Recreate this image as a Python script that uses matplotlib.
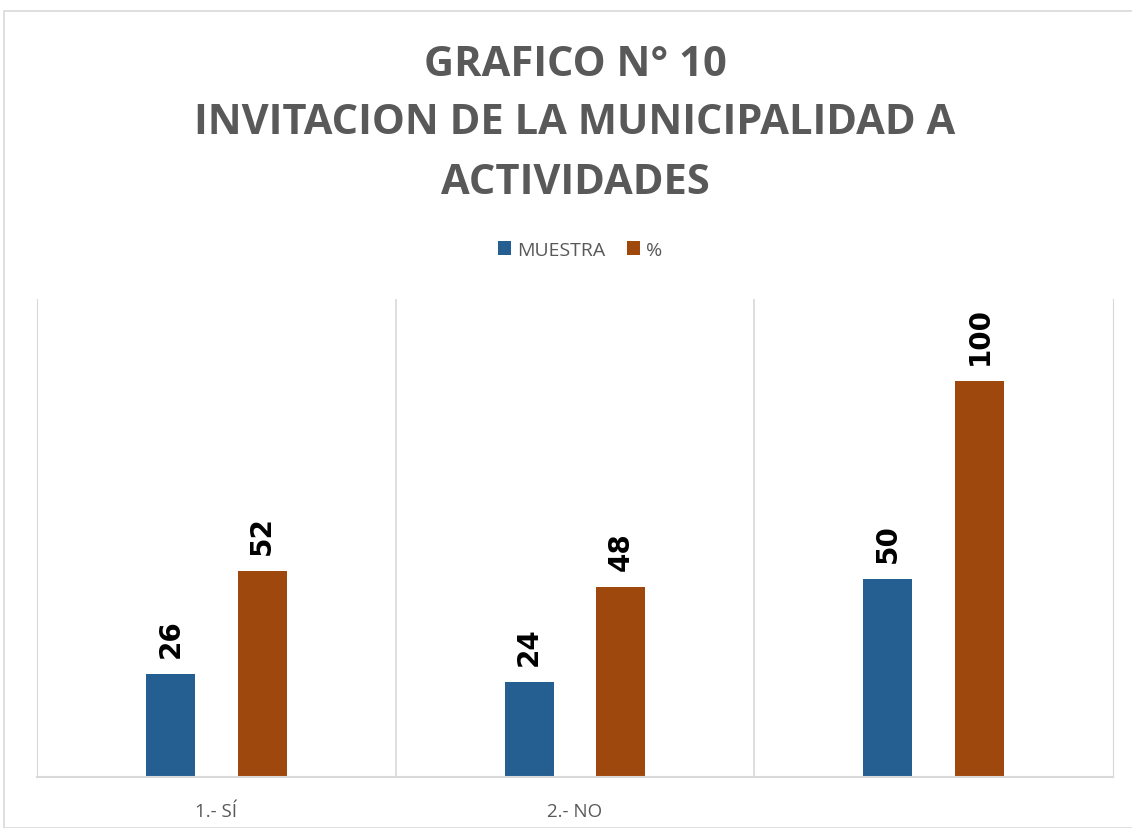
import matplotlib.pyplot as plt
import numpy as np

categories = ["1.- SÍ", "2.- NO", ""]
muestra = [26, 24, 50]
porcentaje = [52, 48, 100]
series_names = ["MUESTRA", "%"]
title_lines = ["GRAFICO N° 10", "INVITACION DE LA MUNICIPALIDAD A", "ACTIVIDADES"]

blue = "#255e91"
orange = "#9e480e"
gray = "#595959"

fig = plt.figure(figsize=(11.32, 8.29), dpi=100)
ax = fig.add_axes([37 / 1132, 1 - 778 / 829, (1113 - 37) / 1132, (778 - 300) / 829])

x = np.arange(len(categories))
w = 0.137
b1 = ax.bar(x - 0.128, muestra, w, color=blue, label=series_names[0])
b2 = ax.bar(x + 0.128, porcentaje, w, color=orange, label=series_names[1])

# etiquetas de valor, giradas
for bars in (b1, b2):
    for r in bars:
        ax.annotate(f"{r.get_height():g}", (r.get_x() + r.get_width() / 2, r.get_height()),
                    xytext=(0, 12), textcoords="offset points", rotation=90,
                    ha="center", va="bottom", fontsize=20, fontweight="bold",
                    family="DejaVu Sans", color="black")

ax.set_xlim(-0.5, 2.5)
ax.set_ylim(0, 120.7)
ax.set_yticks([])
ax.set_xticks(x)
ax.set_xticklabels(categories, fontsize=13.5, color=gray, family="Open Sans")
ax.tick_params(axis="x", length=0, pad=18)
for b in [0.5, 1.5]:
    ax.axvline(b, color="#d9d9d9", lw=1.2)
for s in ["top", "right", "left"]:
    ax.spines[s].set_color("#d9d9d9")
ax.spines["top"].set_visible(False)
ax.spines["bottom"].set_color("#d9d9d9")
ax.spines["bottom"].set_linewidth(1.5)

for txt, y in zip(title_lines, [66, 124, 183]):
    fig.text(575 / 1132, 1 - y / 829, txt, ha="center", va="center", fontsize=30,
             fontweight="bold", color=gray, family="Open Sans")

fig.legend(loc="center", bbox_to_anchor=(580 / 1132, 1 - 251 / 829), ncol=2, frameon=False,
           prop={"family": "Open Sans", "size": 14}, labelcolor=gray,
           handlelength=0.7, handleheight=0.7, handletextpad=0.3, columnspacing=1.1)

# marco exterior del grafico
fig.patches.append(plt.Rectangle((4 / 1132, 0), 1.2, 1 - 12 / 829, transform=fig.transFigure,
                                 fill=False, edgecolor="#d9d9d9", lw=1.2))

fig.savefig("out.png", dpi=100)
